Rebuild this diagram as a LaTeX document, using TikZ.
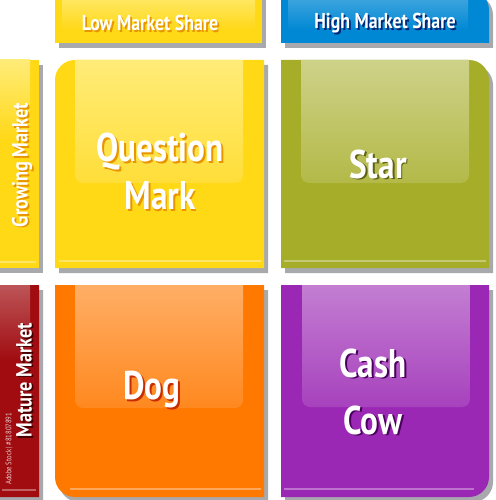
\documentclass[tikz,border=0pt]{standalone}
\usepackage{fontspec}
\newfontfamily\lbl[FakeStretch=0.83]{PT Sans}
\usetikzlibrary{calc}
\definecolor{cyel}{RGB}{255,216,22}
\definecolor{cyelhi}{RGB}{255,236,120}
\definecolor{cyelsh}{RGB}{232,150,0}
\definecolor{cblue}{RGB}{0,136,212}
\definecolor{cbluesh}{RGB}{0,40,120}
\definecolor{colive}{RGB}{166,173,40}
\definecolor{colivesh}{RGB}{95,98,15}
\definecolor{corange}{RGB}{255,120,0}
\definecolor{corangesh}{RGB}{200,45,0}
\definecolor{cpurple}{RGB}{155,40,180}
\definecolor{cpurplesh}{RGB}{75,0,95}
\definecolor{cred}{RGB}{160,12,16}
\definecolor{credsh}{RGB}{70,0,0}
\definecolor{cshadow}{RGB}{167,169,172}
% box paths: x1 y1 x2 y2 r  (pixel coords, y down)
\newcommand\pTL[5]{(#1,#4) -- (#1,{#2+#5}) arc[start angle=180,end angle=270,radius=#5] -- (#3,#2) -- (#3,#4) -- cycle}
\newcommand\pTR[5]{(#1,#4) -- (#1,#2) -- ({#3-#5},#2) arc[start angle=270,end angle=360,radius=#5] -- (#3,#4) -- cycle}
\newcommand\pBL[5]{(#1,#2) -- (#3,#2) -- (#3,#4) -- ({#1+#5},#4) arc[start angle=90,end angle=180,radius=#5] -- cycle}
\newcommand\pBR[5]{(#1,#2) -- (#3,#2) -- (#3,{#4-#5}) arc[start angle=0,end angle=90,radius=#5] -- (#1,#4) -- cycle}
\newcommand\pHI[5]{(#1,#2) -- (#1,{#4-#5}) arc[start angle=180,end angle=90,radius=#5] -- ({#3-#5},#4) arc[start angle=90,end angle=0,radius=#5] -- (#3,#2) -- cycle}
\tikzset{
  big/.style={font=\lbl\bfseries\fontsize{40}{44}\selectfont, align=center, inner sep=0pt},
  head/.style={font=\lbl\bfseries\fontsize{21.5}{23}\selectfont, inner sep=0pt},
  side/.style={font=\lbl\bfseries\fontsize{22}{24}\selectfont, inner sep=0pt, rotate=90},
  shad/.style={fill=cshadow},
  hiline/.style={draw=white, draw opacity=0.35, line width=2pt},
}
\begin{document}
\begin{tikzpicture}[x=1pt,y=-1pt]
\useasboundingbox (0,0) rectangle (495,500);
\clip (0,0) rectangle (495,500);
\fill[white] (0,0) rectangle (495,500);

% ---------- shadows ----------
\begin{scope}[shift={(4,5)}]
  \fill[shad] (55,-10) rectangle (262,43);
  \fill[shad] \pTR{281}{-10}{489}{43}{20};
  \fill[shad] (-10,60) rectangle (39,268);
  \fill[shad] \pBL{-10}{285}{39}{497}{8};
  \fill[shad] \pTL{55}{60}{264}{268}{20};
  \fill[shad] \pTR{281}{60}{489}{268}{20};
  \fill[shad] \pBL{55}{285}{264}{497}{20};
  \fill[shad] \pBR{281}{285}{489}{497}{20};
\end{scope}

% ---------- headers ----------
\fill[cyel] (55,-10) rectangle (262,43);
\shade[top color=cyelhi, bottom color=cyel] (62,-10) rectangle (255,30);
\fill[cblue] \pTR{281}{-10}{489}{43}{20};
\shade[top color=cblue!70!white, bottom color=cblue] (288,-10) rectangle (468,30);

% ---------- side bars ----------
\fill[cyel] (-10,60) rectangle (39,268);
\shade[top color=cyelhi, bottom color=cyel] (-10,60) rectangle (30,140);
\draw[hiline] (0,262) -- (36,262);
\fill[cred] \pBL{-10}{285}{39}{497}{8};
\shade[top color=cred!70!white, bottom color=cred] (-10,285) rectangle (30,360);
\draw[hiline] (2,490) -- (36,490);

% ---------- quadrants ----------
% Question Mark
\fill[cyel] \pTL{55}{60}{264}{268}{20};
\shade[top color=cyelhi, bottom color=cyel!85!white] \pHI{75}{60}{243}{183}{8};
\draw[hiline] (59,261) -- (261,261);
% Star
\fill[colive] \pTR{281}{60}{489}{268}{20};
\shade[top color=colive!55!white, bottom color=colive!85!white] \pHI{301}{60}{469}{183}{8};
\draw[hiline] (284,261) -- (486,261);
% Dog
\fill[corange] \pBL{55}{285}{264}{497}{20};
\shade[top color=corange!60!white, bottom color=corange!88!white] \pHI{75}{285}{243}{408}{8};
\draw[hiline] (70,489) -- (261,489);
% Cash Cow
\fill[cpurple] \pBR{281}{285}{489}{497}{20};
\shade[top color=cpurple!60!white, bottom color=cpurple!88!white] \pHI{302}{285}{470}{407}{8};
\draw[hiline] (284,489) -- (474,489);

% ---------- texts (coloured drop shadow, then white text) ----------
\node[head, text=cyelsh] at (151.8,24.8) {Low Market Share};
\node[head, text=white] (low) at (150,23) {Low Market Share};
\node[head, text=cbluesh] at (386.8,24.8) {High Market Share};
\node[head, text=white] (high) at (385,23) {High Market Share};

\node[side, text=cyelsh] at (23.8,166.8) {Growing Market};
\node[side, text=white] (grow) at (22,165) {Growing Market};
\node[side, text=credsh] at (25.8,381.8) {Mature Market};
\node[side, text=white] (mature) at (24,380) {Mature Market};
\node[font=\lbl\fontsize{8}{9}\selectfont, rotate=90, text=white, opacity=0.8, inner sep=0pt, anchor=west] (stock) at (9,485) {Adobe Stock\,|\,\#81807891};

\node[big, text=cyelsh] at (161.8,153.8) {Question};
\node[big, text=white] (qm1) at (160,152) {Question};
\node[big, text=cyelsh] at (161.8,197.8) {Mark};
\node[big, text=white] (qm2) at (160,196) {Mark};
\node[big, text=colivesh] at (379.8,165.8) {Star};
\node[big, text=white] (star) at (378,164) {Star};
\node[big, text=corangesh] at (153.8,391.8) {Dog};
\node[big, text=white] (dog) at (152,390) {Dog};
\node[big, text=cpurplesh] at (374.8,364.8) {Cash};
\node[big, text=white] (cash1) at (373,363) {Cash};
\node[big, text=cpurplesh] at (374.8,421.8) {Cow};
\node[big, text=white] (cash2) at (373,420) {Cow};
\end{tikzpicture}
\end{document}
